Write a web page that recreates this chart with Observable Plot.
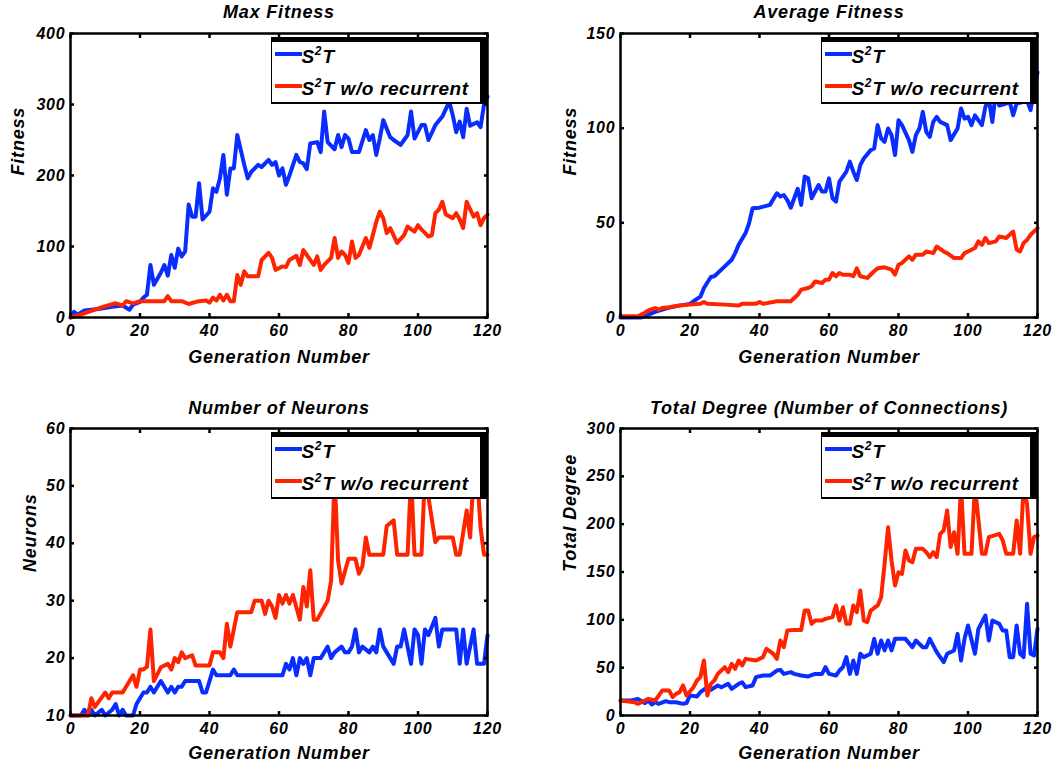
<!DOCTYPE html>
<html>
<head>
<meta charset="utf-8">
<script src="https://cdn.jsdelivr.net/npm/d3@7"></script>
<script src="https://cdn.jsdelivr.net/npm/@observablehq/plot@0.6"></script>
<style>
  body { margin: 0; background: #fff; }
  #root { position: relative; width: 1061px; height: 767px; overflow: hidden; background: #fff; }
  .panel { position: absolute; }
  .legend { position: absolute; background: #fff; border-style: solid; border-color: #000;
    border-width: 5px 8px 2px 1.5px; box-sizing: border-box;
    font-family: "Liberation Sans", Arial, sans-serif; font-weight: bold; font-style: italic;
    font-size: 19px; color: #000; letter-spacing: 0.6px; }
  .legend .sw { position: absolute; height: 4px; width: 27px; left: 2.5px; }
  .legend .lab { position: absolute; left: 29.5px; white-space: nowrap; line-height: 19px; }
  .legend .sup { font-size: 12px; position: relative; top: -8px; letter-spacing: 0; padding-right: 1px; }
</style>
</head>
<body>
<div id="root"></div>
<script>
// ---------- data (generation, value) ----------
const xTicks = [0, 20, 40, 60, 80, 100, 120];
const seriesNames = ["S\u00b2T", "S\u00b2T w/o recurrent"];

const maxS2T_gen = [0,1,2,4,8,12,15,17,18,20,21,22,23,24,26,27,28,29,30,31,32,33,34,35,36,37,38,40,41,42,43,44,45,46,47,48,50,51,52,54,55,57,58,59,60,61,62,63,65,66,67,68,69,71,72,73,74,76,77,78,79,80,81,83,85,86,87,88,89,90,92,93,95,96,97,98,99,101,102,103,105,107,109,110,111,112,113,114,115,117,118,119,120];
const maxS2T_val = [0,8,4,10,12,15,17,11,18,22,28,32,74,46,63,74,59,88,70,97,86,93,159,142,142,189,138,149,182,177,196,229,173,210,210,257,215,196,205,215,212,222,215,219,200,210,187,200,229,219,217,209,245,247,233,290,247,237,257,240,257,252,233,233,264,250,257,229,252,278,254,250,243,250,257,290,252,271,271,250,271,283,304,285,261,276,254,294,270,275,268,300,311];

const maxRec_gen = [0,3,7,10,13,15,16,18,20,23,27,28,29,32,34,37,39,40,41,42,43,44,45,46,47,48,49,50,51,54,55,57,58,59,61,62,63,65,66,67,68,70,71,72,73,75,76,77,78,79,80,81,82,83,84,85,86,87,88,89,90,91,92,94,96,97,99,100,101,103,104,105,106,107,108,110,111,112,113,114,116,117,118,119,120];
const maxRec_val = [0,4,11,16,20,17,23,20,23,23,23,30,23,23,19,23,24,21,28,24,32,24,32,23,23,60,46,65,58,58,81,91,84,67,72,71,81,87,74,95,88,74,86,67,74,84,112,84,93,88,77,107,84,88,100,112,98,116,135,149,140,119,126,105,116,128,121,130,124,114,116,147,152,163,145,140,147,138,126,163,142,147,130,140,145];

const avgS2T_gen = [0,6,8,10,13,16,20,21,23,24,26,27,28,30,32,33,34,36,37,38,40,43,45,46,47,48,49,50,51,52,53,54,55,57,58,59,60,61,62,63,65,66,67,68,69,70,72,73,74,75,76,77,78,79,80,81,83,84,85,86,87,88,89,90,91,92,94,95,97,98,99,100,101,102,104,105,106,107,108,109,111,112,113,114,116,117,118,119,120];
const avgS2T_val = [0,0,1.5,3,4.7,6,7.2,8.6,11,15.6,21.4,21.8,23.5,27,30.5,34,38.4,44.6,49.8,57.7,58,59.5,65.6,63.9,64.7,62,58,63,68,59.5,74.4,73.5,63,70,66.5,66.5,73.5,63,61.2,71.8,77,82.3,77,72.6,80.5,84,88.4,89.3,101.6,94.6,92.8,99.8,96.3,85.8,104.2,101.6,93.7,87.5,96.3,99.8,108.6,98,95.4,103.3,106,103.3,101.6,93.7,99.8,110.4,105,106,101.6,106.8,101.6,111.2,115.6,103.3,119,112,113,113.9,106.8,113,113.9,114.7,109.5,119,129.6];

const avgRec_gen = [0,5,7,8,10,11,12,14,17,20,23,24,25,30,34,35,39,40,41,45,49,51,52,54,55,56,58,59,60,61,62,63,64,66,67,68,69,71,73,74,76,78,79,80,81,83,84,85,87,88,90,91,93,94,96,98,99,100,102,103,104,105,106,108,109,111,113,114,115,116,117,118,120];
const avgRec_val = [0.7,0.7,2.5,3.7,5,4.2,5,5.4,6.3,6.8,7.2,8.2,7.2,6.8,6.3,7.2,7.2,8.2,7.2,8.6,8.6,12,14.7,15.6,16.5,19,18.2,20,20,23.5,21.8,23.5,22.6,22.6,21.8,26,21.8,20.9,24.4,26,26.5,25.3,22.6,27.9,28.8,32.3,30.5,33.2,33.2,34.9,34,37.5,34.9,34,31.4,31.4,34,34.9,36.7,40.2,38.4,42,39.3,40.2,42.8,42,45.4,35.8,34.9,39.3,41,43.7,47.2];

const neuS2T_gen = [0,3,4,5,6,7,9,10,12,13,14,15,16,18,19,20,21,22,23,24,25,26,27,28,29,30,31,32,33,37,38,39,40,41,42,46,47,48,61,62,63,64,65,66,67,68,69,70,72,73,74,75,76,78,79,80,81,82,83,84,86,87,88,89,90,91,92,93,94,95,96,97,98,99,100,101,102,103,105,106,107,111,112,113,114,116,117,119,120];
const neuS2T_val = [10,10,11,10,11,10,11,10,11,12,10,11,10,10,12,13,14,14,15,14,15,16,15,14,15,14,15,15,16,16,14,14,16,18,17,17,18,17,17,19,18,20,17,20,19,20,17,20,20,21,22,20,21,22,21,21,22,25,21,22,21,22,21,25,22,21,20,19,22,22,25,22,19,25,24,19,25,24,27,22,25,25,19,25,19,25,19,19,24];

const neuRec_gen = [0,5,6,7,10,11,12,15,16,18,19,20,21,22,23,24,26,28,29,30,31,32,33,35,36,40,41,43,44,45,46,47,48,52,53,55,56,57,58,59,60,61,62,63,64,66,67,68,69,70,71,74,75,76,77,78,80,82,83,84,85,86,90,91,93,94,97,98,99,101,102,105,106,110,111,112,114,115,116,117,118,119,120];
const neuRec_val = [10,10,13,11.5,14,13,14,14,15,17,15,18,18,18.5,25,16,18.4,19,18,20,19.3,21,20,20.5,18.7,18.7,21,21,20,26,22,25,28,28,30,30,27.7,30,29,27,31,29.5,31,29.5,31,26.7,32.4,29,35.3,26.7,26.7,30,33.5,52,37,33,37.3,37.3,34.7,36,41,38,38,43,44,38,38,52,38,38,52,40.2,41,41,38,38,45.7,41,52,52,42.8,38,38];

const degS2T_gen = [0,3,5,7,8,9,10,11,13,14,16,18,19,20,22,23,25,26,28,29,31,32,34,35,36,38,39,41,43,45,46,47,49,50,52,54,56,58,59,60,62,63,64,65,66,67,68,69,70,72,73,74,75,76,77,78,79,82,84,85,87,88,89,91,93,94,96,97,98,99,100,102,103,105,106,107,109,110,111,112,113,114,115,116,117,118,119,120];
const degS2T_val = [15.7,15.7,17.4,12.9,15.7,11.5,13.9,12.2,15,13.9,13.9,12.2,12.9,20.9,19.9,24.4,29.6,26.8,31.4,29.6,33.1,27.9,33.1,34.8,29.6,31.4,40.1,41.8,41.8,47,47.7,43.5,45.3,43.5,41.8,40.8,43.5,43.5,50.5,43.5,41.8,47,50.5,61,43.5,57.5,43.5,64.5,61,64.5,80.1,64.5,78.4,68,78.4,68,80.1,80.1,71.4,78.4,71.4,71.4,80.1,66.2,55.7,64.5,68,85.3,57.5,80.1,94.1,64.5,90.6,104.5,78.4,99.3,95.8,88.8,88.8,61,61,94.1,64.5,61,116.7,64.5,62.7,90.6];

const degRec_gen = [0,4,5,7,8,10,12,14,15,16,17,18,19,21,22,23,24,25,26,27,28,30,31,32,33,34,35,36,39,41,42,44,45,46,47,48,50,52,53,54,55,56,58,59,61,62,63,64,65,66,67,68,69,70,71,72,74,75,76,77,78,79,80,81,82,83,84,85,87,88,89,90,91,92,93,94,95,96,97,98,99,101,102,104,105,106,109,110,111,113,114,115,116,117,118,119,120];
const degRec_val = [15.7,13.9,12.2,15.7,17.4,15.7,26.1,26.1,19.2,22.6,24.4,31.4,20.9,29.6,36.6,40.1,57.5,20.9,33.1,36.6,43.5,50.5,45.3,54,48.8,57.5,52.3,59.2,57.5,61,69.7,64.5,59.2,78.4,71.4,88.8,89.5,89.5,109.7,109.7,95.8,99.3,99.3,101,102.8,115,99.3,113.2,95.8,95.8,115,108,130.6,99.3,97.5,109.7,115,123.7,158.5,196.8,162,135.9,149.8,148,172.5,162,160.3,174.2,174.2,170.7,165.5,170.7,165.5,189.9,193.4,214.3,176,191.6,169,240,169,169,240,169,169,186.4,189.9,183,169,169,203.8,169,240,221,169,186.4,188];

const panels = [
  { title: "Max Fitness", ylabel: "Fitness", yDomain: [0, 400], yTicks: [0,100,200,300,400],
    blue: [maxS2T_gen, maxS2T_val], red: [maxRec_gen, maxRec_val],
    left: 0, top: 0, w: 530, h: 380, pw: 417, ph: 284, ylabDx: -52, titleDy: -21, xlabDy: 40 },
  { title: "Average Fitness", ylabel: "Fitness", yDomain: [0, 150], yTicks: [0,50,100,150],
    blue: [avgS2T_gen, avgS2T_val], red: [avgRec_gen, avgRec_val],
    left: 550, top: 0, w: 511, h: 380, pw: 417, ph: 284, ylabDx: -50, titleDy: -21, xlabDy: 40 },
  { title: "Number of Neurons", ylabel: "Neurons", yDomain: [10, 60], yTicks: [10,20,30,40,50,60],
    blue: [neuS2T_gen, neuS2T_val], red: [neuRec_gen, neuRec_val],
    left: 0, top: 395, w: 530, h: 372, pw: 417, ph: 287, ylabDx: -40, titleDy: -20, xlabDy: 38 },
  { title: "Total Degree (Number of Connections)", ylabel: "Total Degree", yDomain: [0, 300], yTicks: [0,50,100,150,200,250,300],
    blue: [degS2T_gen, degS2T_val], red: [degRec_gen, degRec_val],
    left: 550, top: 395, w: 511, h: 372, pw: 417, ph: 287, ylabDx: -50, titleDy: -20, xlabDy: 38 }
];

const BLUE = "#0a2dff";
const RED = "#ff2400";
const FONT = "'Liberation Sans', Arial, Helvetica, sans-serif";
const root = document.getElementById("root");

function toRows(pair) { return pair[0].map((g, i) => ({ gen: g, val: pair[1][i] })); }

for (const p of panels) {
  const mL = 70, mT = 33;
  const mR = p.w - mL - p.pw, mB = p.h - mT - p.ph;
  const txt = { fontFamily: FONT, fontWeight: "bold", fontStyle: "italic", fontSize: 18, fill: "#000" };
  const chart = Plot.plot({
    width: p.w, height: p.h,
    marginLeft: mL, marginRight: mR, marginTop: mT, marginBottom: mB,
    x: { domain: [0, 120] },
    y: { domain: p.yDomain },
    style: { fontFamily: FONT, fontSize: "16px", fontWeight: "bold", fontStyle: "italic",
             color: "#000", background: "transparent", overflow: "visible", letterSpacing: "0.8px" },
    marks: [
      Plot.line(toRows(p.blue), { x: "gen", y: "val", stroke: BLUE, strokeWidth: 4, strokeLinejoin: "round", strokeLinecap: "round" }),
      Plot.line(toRows(p.red), { x: "gen", y: "val", stroke: RED, strokeWidth: 4, strokeLinejoin: "round", strokeLinecap: "round" }),
      Plot.axisX({ anchor: "bottom", ticks: xTicks, tickSize: -4, tickPadding: 11, strokeWidth: 2.5, label: null, tickFormat: d => String(d) }),
      Plot.axisX({ anchor: "top", ticks: xTicks, tickSize: -4, strokeWidth: 2.5, label: null, tickFormat: () => "" }),
      Plot.axisY({ anchor: "left", ticks: p.yTicks, tickSize: -4, tickPadding: 9, strokeWidth: 2.5, label: null, tickFormat: d => String(d) }),
      Plot.axisY({ anchor: "right", ticks: p.yTicks, tickSize: -4, strokeWidth: 2.5, label: null, tickFormat: () => "" }),
      Plot.frame({ stroke: "#000", strokeWidth: 2.5 }),
      Plot.text([p.title], { frameAnchor: "top", dy: p.titleDy, lineAnchor: "middle", ...txt, fontSize: 18 }),
      Plot.text(["Generation Number"], { frameAnchor: "bottom", dy: p.xlabDy, lineAnchor: "middle", ...txt }),
      Plot.text([p.ylabel], { frameAnchor: "left", dx: p.ylabDx, rotate: -90, lineAnchor: "middle", ...txt })
    ]
  });
  const wrap = document.createElement("div");
  wrap.className = "panel";
  wrap.style.left = p.left + "px";
  wrap.style.top = p.top + "px";
  wrap.appendChild(chart);
  root.appendChild(wrap);

  // legend (MATLAB-style box in the upper right of the axes)
  const plotLeft = p.left + mL, plotTop = p.top + mT, plotRight = plotLeft + p.pw;
  const lg = document.createElement("div");
  lg.className = "legend";
  const lgLeft = plotLeft + 201;
  lg.style.left = lgLeft + "px";
  lg.style.top = (plotTop + 4) + "px";
  lg.style.width = (plotRight + 1 - lgLeft) + "px";
  lg.style.height = "67px";
  const items = [[seriesNames[0], BLUE, 12, 5], [seriesNames[1], RED, 44, 37]];
  for (const [name, color, lineY, textY] of items) {
    const sw = document.createElement("div");
    sw.className = "sw";
    sw.style.background = color;
    sw.style.top = (lineY - 2) + "px";
    lg.appendChild(sw);
    const lab = document.createElement("div");
    lab.className = "lab";
    lab.style.top = textY + "px";
    const rest = name.slice(2);
    lab.innerHTML = "S<span class=\"sup\">2</span>" + rest.replace(/&/g, "&amp;").replace(/</g, "&lt;");
    lg.appendChild(lab);
  }
  root.appendChild(lg);
}
</script>
</body>
</html>
